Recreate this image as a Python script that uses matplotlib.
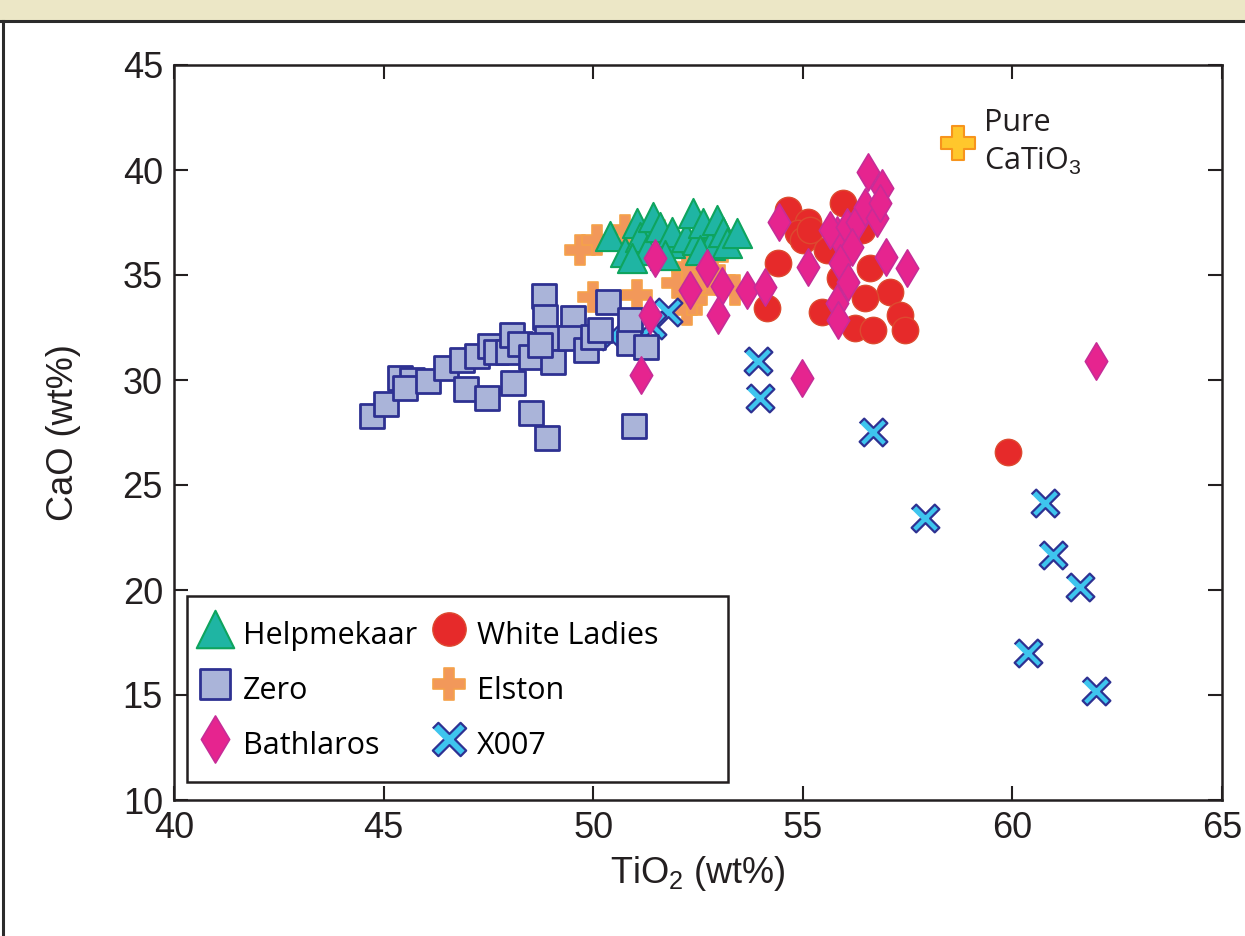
import numpy as np
import matplotlib.pyplot as plt
from matplotlib.patches import Rectangle
from matplotlib.lines import Line2D

plt.rcParams['font.family'] = ['Liberation Sans', 'DejaVu Sans']
plt.rcParams['mathtext.fontset'] = 'custom'
plt.rcParams['mathtext.rm'] = 'Liberation Sans'

# TiO2 / CaO (wt%) per locality
helpmekaar_ti = [50.40, 50.76, 51.04, 51.12, 51.28, 51.43, 51.59, 51.83, 51.88, 52.21, 52.38,
                 52.48, 52.62, 52.79, 52.95, 53.10, 53.19, 53.43, 50.93, 51.71, 52.55]
helpmekaar_ca = [36.86, 36.10, 37.48, 36.81, 36.19, 37.76, 37.29, 36.52, 37.05, 36.81, 37.95,
                 36.67, 37.48, 36.43, 37.62, 37.05, 36.52, 37.00, 35.81, 35.95, 36.19]

zero_ti = [44.72, 45.06, 45.39, 45.68, 45.51, 46.06, 46.49, 46.87, 46.97, 47.23, 47.47, 47.54,
           47.68, 47.97, 48.09, 48.06, 48.25, 48.52, 48.52, 48.90, 48.83, 48.85, 48.90, 49.04,
           49.52, 49.45, 49.83, 50.00, 50.16, 50.35, 50.88, 50.85, 51.26, 50.97, 48.73]
zero_ca = [28.29, 28.86, 30.10, 30.00, 29.62, 29.95, 30.57, 30.95, 29.57, 31.14, 29.14, 31.62,
           31.33, 31.33, 29.86, 32.14, 31.71, 31.10, 28.43, 27.24, 34.00, 33.00, 32.00, 30.86,
           32.95, 32.00, 31.43, 32.05, 32.38, 33.71, 32.86, 31.76, 31.57, 27.81, 31.67]

bathlaros_ti = [51.47, 51.36, 51.14, 52.31, 52.71, 53.07, 52.98, 53.67, 54.10, 54.43, 54.98,
                55.12, 56.56, 56.89, 55.82, 55.65, 56.05, 56.29, 56.48, 56.77, 56.84, 56.17,
                55.89, 56.08, 55.82, 55.84, 56.99, 57.49, 61.99]
bathlaros_ca = [35.81, 33.10, 30.24, 34.29, 35.33, 34.48, 33.10, 34.29, 34.43, 37.52, 30.10,
                35.38, 39.90, 39.14, 36.90, 37.14, 37.29, 37.52, 38.24, 37.71, 38.43, 36.33,
                35.57, 34.67, 33.67, 32.86, 35.86, 35.33, 30.90]

white_ti = [54.65, 55.12, 54.89, 55.00, 54.41, 54.15, 55.96, 55.58, 55.89, 55.46, 56.41,
            56.60, 57.08, 56.48, 56.25, 56.67, 57.32, 57.44, 59.90, 55.17]
white_ca = [38.10, 37.52, 37.00, 36.67, 35.57, 33.43, 38.43, 36.19, 34.86, 33.24, 37.14,
            35.33, 34.19, 33.90, 32.48, 32.38, 33.10, 32.38, 26.57, 37.14]

elston_ti = [49.69, 50.09, 50.76, 49.99, 51.04, 52.00, 52.24, 52.55, 53.02, 52.55, 52.24,
             52.86, 53.38, 51.60, 52.36]
elston_ca = [36.19, 36.67, 37.14, 33.95, 34.05, 34.62, 33.33, 34.29, 34.76, 34.90, 35.38,
             35.86, 34.29, 36.90, 33.81]

x007_ti = [51.78, 53.93, 53.98, 56.67, 57.92, 60.78, 60.97, 61.61, 60.37, 61.99, 50.45, 51.40]
x007_ca = [33.24, 30.90, 29.14, 27.52, 23.43, 24.14, 21.67, 20.14, 17.00, 15.19, 32.10, 32.62]

pure_ti = [58.7]
pure_ca = [41.3]


def plus_verts(a, angle=0.0):
    # filled plus with arm half-width a (arm length 1), optionally rotated
    pts = np.array([(-a, 1), (a, 1), (a, a), (1, a), (1, -a), (a, -a), (a, -1), (-a, -1),
                    (-a, -a), (-1, -a), (-1, a), (-a, a)])
    c, s = np.cos(angle), np.sin(angle)
    return pts @ np.array([[c, s], [-s, c]])


thin_x = plus_verts(0.2, np.pi / 4)

fig = plt.figure(figsize=(12.45, 9.36), dpi=100)
fig.patch.set_facecolor('white')

# header band and panel frame
fig.patches.append(Rectangle((0, 1 - 20 / 936), 1, 20 / 936, transform=fig.transFigure,
                             facecolor='#ECE7C6', edgecolor='none', zorder=0))
fig.add_artist(Line2D([0, 1], [1 - 21 / 936, 1 - 21 / 936], transform=fig.transFigure,
                      color='#2b2b2b', lw=2.2))
fig.add_artist(Line2D([3 / 1245, 3 / 1245], [0, 1 - 21 / 936], transform=fig.transFigure,
                      color='#2b2b2b', lw=2.2))

ax = fig.add_axes([174 / 1245, 1 - 800 / 936, (1222 - 174) / 1245, (800 - 65) / 936])

ax.scatter(elston_ti, elston_ca, s=22 ** 2, marker='P', facecolor='#F2985A',
           edgecolor='#F5A24A', linewidth=1.2, zorder=2, label='Elston')
ax.scatter(x007_ti, x007_ca, s=20 ** 2, marker=thin_x, facecolor='#3EC5EE',
           edgecolor='#2E3192', linewidth=1.6, zorder=3, label='X007')
ax.scatter(zero_ti, zero_ca, s=17 ** 2, marker='s', facecolor='#AAB4D9',
           edgecolor='#2E3192', linewidth=2.0, zorder=4, label='Zero')
ax.scatter(helpmekaar_ti, helpmekaar_ca, s=21 ** 2, marker='^', facecolor='#1FB5A3',
           edgecolor='#0EA45E', linewidth=1.5, zorder=5, label='Helpmekaar')
ax.scatter(white_ti, white_ca, s=19 ** 2, marker='o', facecolor='#E62A2A',
           edgecolor='#DD4A30', linewidth=1.0, zorder=6, label='White Ladies')
ax.scatter(bathlaros_ti, bathlaros_ca, s=19 ** 2, marker='d', facecolor='#E6248F',
           edgecolor='#C72C97', linewidth=1.2, zorder=7, label='Bathlaros')
ax.scatter(pure_ti, pure_ca, s=24 ** 2, marker='P', facecolor='#FFC72C',
           edgecolor='#F7941D', linewidth=1.5, zorder=8)

ax.text(pure_ti[0] + 0.62, pure_ca[0] + 0.95, 'Pure', fontsize=22, family='Open Sans',
        va='center', ha='left', color='#231F20')
ax.text(pure_ti[0] + 0.62, pure_ca[0] - 0.9, 'CaTiO$_3$', fontsize=22, family='Open Sans',
        va='center', ha='left', color='#231F20')

ax.set_xlim(40, 65)
ax.set_ylim(10, 45)
ax.set_xticks([40, 45, 50, 55, 60, 65])
ax.set_yticks([10, 15, 20, 25, 30, 35, 40, 45])
ax.tick_params(direction='in', length=10, width=1.5, labelsize=26, top=True, right=True,
               colors='#231F20', pad=8)
for sp in ax.spines.values():
    sp.set_linewidth(1.8)
    sp.set_color('#231F20')

ax.set_xlabel('TiO$_2$ (wt%)', fontsize=26, color='#231F20', labelpad=6)
ax.set_ylabel('CaO (wt%)', fontsize=26, color='#231F20', labelpad=30)

# legend box drawn separately so the frame can be wider than its entries
ax.add_patch(Rectangle((0.0124, 0.0245), 0.5162, 0.2531, transform=ax.transAxes,
                       facecolor='white', edgecolor='#231F20', linewidth=1.8, zorder=9))

h, l = ax.get_legend_handles_labels()
order = ['Helpmekaar', 'Zero', 'Bathlaros', 'White Ladies', 'Elston', 'X007']
handles = [h[l.index(n)] for n in order]
leg = ax.legend(handles, order, ncol=2, loc='upper left', bbox_to_anchor=(0.022, 0.2525),
                frameon=False, borderpad=0, borderaxespad=0, handleheight=1.57,
                handletextpad=0.3, columnspacing=0.45, labelspacing=0.53, handlelength=1.2,
                prop={'family': 'Open Sans', 'size': 22}, scatterpoints=1)
for hd, size in zip(leg.legend_handles, [27, 21, 24, 24, 23, 24]):
    hd.set_sizes([size ** 2])
leg.set_zorder(10)

fig.savefig('out.png', dpi=100)
